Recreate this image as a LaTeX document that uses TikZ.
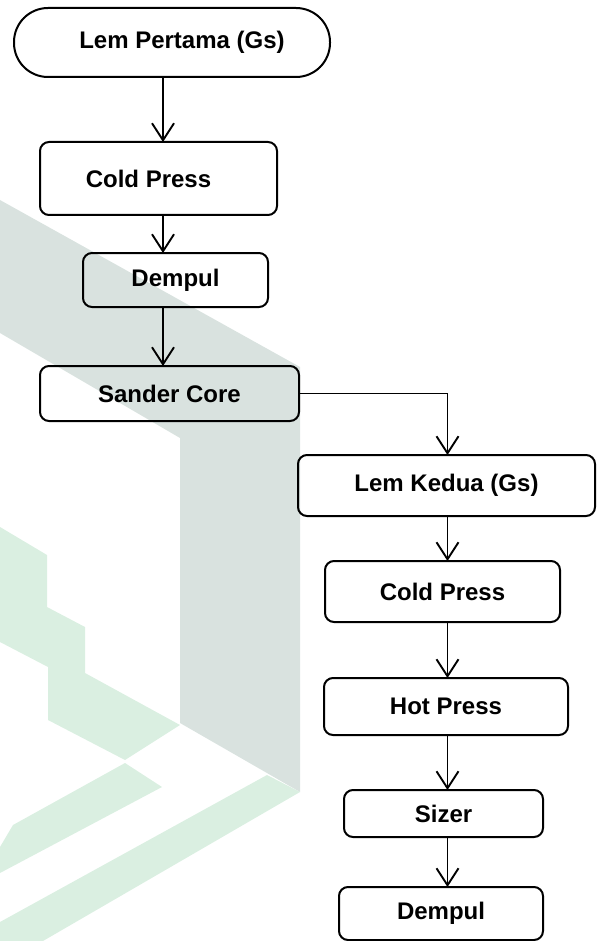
\documentclass[tikz,border=0pt]{standalone}
\usepackage{fontspec}
\setmainfont{Liberation Sans}
\usetikzlibrary{arrows.meta,positioning,backgrounds}
\definecolor{wmgray}{RGB}{217,226,223}
\definecolor{wmgreen}{RGB}{218,239,225}

\begin{document}
\begin{tikzpicture}[
  font=\bfseries\fontsize{24}{28}\selectfont,
  every node/.style={align=center},
  %% ─── gaya node ────────────────────────────────────────────────
  terminal/.style={
    draw=black, rounded corners=34pt, inner sep=0pt, outer sep=0pt,
    minimum width=316pt, minimum height=69pt, line width=2pt},
  proses/.style={
    draw=black, rounded corners=9pt, inner sep=0pt, outer sep=0pt, line width=2pt},
  arrow/.style={-{Straight Barb[length=17pt,width=22pt]}, line width=1.9pt}
]

  \useasboundingbox (0,0) rectangle (603pt,-941pt);

  %% ─── 1. kolom kiri (lem pertama) ─────────────────────────────────
  \node[terminal] (lem1) at (172pt,-42.5pt) {\hspace*{20pt}Lem Pertama (Gs)};
  \node[proses, minimum width=237pt, minimum height=73pt, below=65pt of lem1, xshift=-13.5pt] (cold1) {Cold Press\hspace*{20pt}};
  \node[proses, minimum width=185pt, minimum height=54pt, below=38pt of cold1, xshift=17pt] (dempul1) {Dempul};
  \node[proses, minimum width=259pt, minimum height=55pt, below=59pt of dempul1, xshift=-6pt] (sander) {Sander Core};

  %% ─── 2. kolom kanan (lem kedua) ──────────────────────────────────
  \node[proses, minimum width=297pt, minimum height=61pt, below=34pt of sander, xshift=277pt] (lem2) {Lem Kedua (Gs)};
  \node[proses, minimum width=235pt, minimum height=61pt, below=45pt of lem2, xshift=-4pt] (cold2) {Cold Press};
  \node[proses, minimum width=244pt, minimum height=57pt, below=56pt of cold2, xshift=3.5pt] (hot) {Hot Press};
  \node[proses, minimum width=199pt, minimum height=47pt, below=55pt of hot, xshift=-2.5pt] (sizer) {Sizer};
  \node[proses, minimum width=204pt, minimum height=53pt, below=50pt of sizer, xshift=-2.5pt] (dempul2) {Dempul};

  %% ─── 3. alur panah ───────────────────────────────────────────────
  \coordinate (jalurA) at (163pt,0);
  \coordinate (jalurB) at (447.5pt,0);

  \foreach \s/\t in {lem1/cold1, cold1/dempul1, dempul1/sander} {
    \draw[arrow] (\s.south -| jalurA) -- (\t.north -| jalurA);
  }

  % sander core ke lem kedua
  \draw[arrow] (sander.east) -| (lem2.north -| jalurB);

  \foreach \s/\t in {lem2/cold2, cold2/hot, hot/sizer, sizer/dempul2} {
    \draw[arrow] (\s.south -| jalurB) -- (\t.north -| jalurB);
  }

  %% ─── 4. latar (watermark) ────────────────────────────────────────
  \begin{scope}[on background layer, x=1pt, y=-1pt]
    \fill[wmgray] (0,200) -- (300,367) -- (300,792) -- (180,723) -- (180,438) -- (0,333) -- cycle;
    \fill[wmgreen] (0,527) -- (47,555) -- (47,607) -- (85,627) -- (85,673) -- (180,725)
      -- (125,760) -- (48,720) -- (48,667) -- (0,642) -- cycle;
    \fill[wmgreen] (13,825) -- (125,763) -- (162,787) -- (0,873) -- (0,847) -- cycle;
    \fill[wmgreen] (267,775) -- (300,792) -- (43,941) -- (0,941) -- (0,922) -- cycle;
  \end{scope}

\end{tikzpicture}
\end{document}
